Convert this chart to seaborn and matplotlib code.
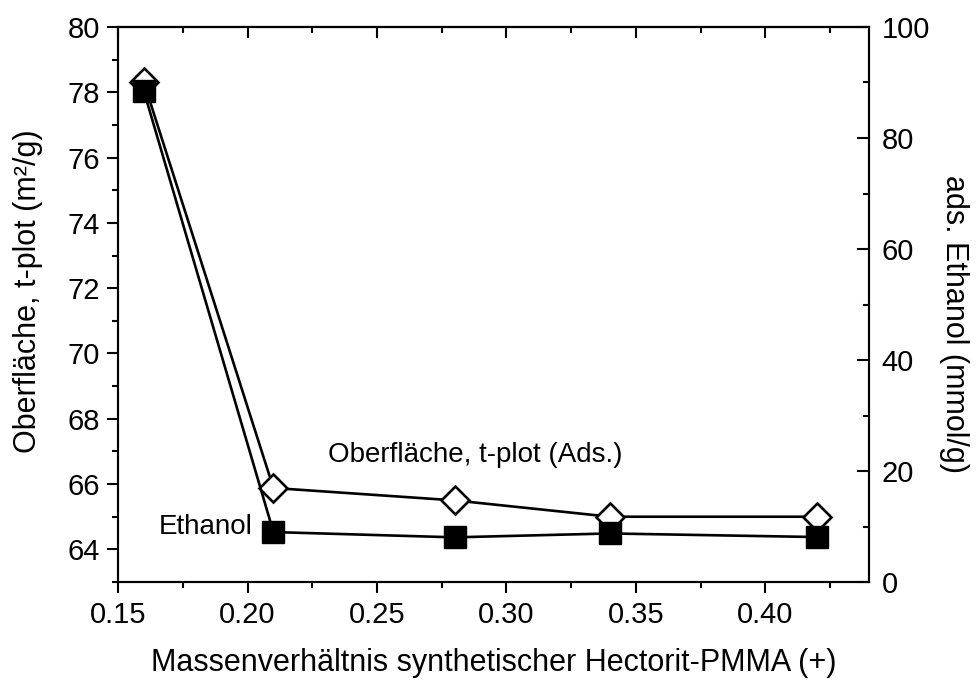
import matplotlib
matplotlib.use("Agg")
import matplotlib.pyplot as plt
from matplotlib.ticker import MultipleLocator, FormatStrFormatter
import seaborn as sns
import pandas as pd

# Mass ratio of synthetic hectorite to PMMA
ratio = [0.16, 0.21, 0.28, 0.34, 0.42]
# t-plot surface area (m²/g), left axis
surface = [78.3, 65.88, 65.5, 65.0, 65.0]
# adsorbed ethanol (mmol/g), right axis
ethanol = [88.4, 9.0, 8.05, 8.75, 8.1]

df = pd.DataFrame({"ratio": ratio, "surface": surface, "ethanol": ethanol})

sns.set_style("ticks")
plt.rcParams["font.family"] = ["Liberation Sans", "DejaVu Sans"]
plt.rcParams["text.color"] = "black"
plt.rcParams["axes.labelcolor"] = "black"
plt.rcParams["xtick.color"] = "black"
plt.rcParams["ytick.color"] = "black"
plt.rcParams["axes.linewidth"] = 1.5

TICK_FS = 21
LABEL_FS = 22
NOTE_FS = 20

fig = plt.figure(figsize=(9.78, 6.8), dpi=100)
ax = fig.add_axes([0.1207, 0.1441, 0.7678, 0.8162])
ax2 = ax.twinx()

sns.lineplot(data=df, x="ratio", y="surface", ax=ax, color="black",
             linewidth=1.9, marker="D", markersize=14, markerfacecolor="white",
             markeredgecolor="black", markeredgewidth=1.9, zorder=3)
sns.lineplot(data=df, x="ratio", y="ethanol", ax=ax2, color="black",
             linewidth=1.9, marker="s", markersize=15.5, markerfacecolor="black",
             markeredgecolor="black", markeredgewidth=1.0, zorder=3)

ax.set_xlim(0.15, 0.44)
ax.set_ylim(63, 80)
ax2.set_ylim(0, 100)

ax.xaxis.set_major_locator(MultipleLocator(0.05))
ax.xaxis.set_minor_locator(MultipleLocator(0.025))
ax.yaxis.set_major_locator(MultipleLocator(2))
ax.yaxis.set_minor_locator(MultipleLocator(1))
ax2.yaxis.set_major_locator(MultipleLocator(20))
ax2.yaxis.set_minor_locator(MultipleLocator(10))
ax.xaxis.set_major_formatter(FormatStrFormatter("%.2f"))

for a in (ax, ax2):
    for s in a.spines.values():
        s.set_visible(True)
        s.set_linewidth(1.5)
        s.set_color("black")

ax.tick_params(axis="both", which="major", direction="out", length=8, width=1.5,
               labelsize=TICK_FS, top=False, right=False)
ax.tick_params(axis="x", which="major", pad=6)
ax.tick_params(axis="y", which="major", pad=5)
ax.tick_params(axis="both", which="minor", direction="out", length=4.5, width=1.5,
               top=False, right=False)
ax2.tick_params(axis="y", which="major", direction="in", length=8.5, width=1.5,
                labelsize=TICK_FS, pad=9)
ax2.tick_params(axis="y", which="minor", direction="in", length=4.5, width=1.5)

# top edge carries inward ticks
top = ax.secondary_xaxis("top")
top.xaxis.set_major_locator(MultipleLocator(0.05))
top.xaxis.set_minor_locator(MultipleLocator(0.025))
top.tick_params(which="major", direction="in", length=8, width=1.5, labeltop=False)
top.tick_params(which="minor", direction="in", length=4.5, width=1.5)
top.spines["top"].set_linewidth(1.5)

ax.set_xlabel("Massenverhältnis synthetischer Hectorit-PMMA (+)", fontsize=LABEL_FS)
ax.xaxis.label.set_verticalalignment("center")
ax.xaxis.set_label_coords(0.5, (582 - 663) / 555)

ax.set_ylabel("Oberfläche, t-plot (m²/g)", fontsize=LABEL_FS)
ax.yaxis.label.set_verticalalignment("center")
ax.yaxis.set_label_coords((28 - 118) / 751, (582 - 291) / 555)

ax2.set_ylabel("ads. Ethanol (mmol/g)", fontsize=LABEL_FS, rotation=-90)
ax2.yaxis.label.set_verticalalignment("center")
ax2.yaxis.set_label_coords((954 - 118) / 751, (582 - 324) / 555)

ax.text(0.231, 66.9, "Oberfläche, t-plot (Ads.)", fontsize=NOTE_FS, ha="left", va="center")
ax.text(0.2019, 64.69, "Ethanol", fontsize=NOTE_FS, ha="right", va="center")

ax.set_zorder(ax2.get_zorder() - 1)
ax2.patch.set_visible(False)
ax.patch.set_facecolor("white")

for a in (ax, ax2):
    if a.get_legend():
        a.get_legend().remove()

fig.savefig("out.png", dpi=100, facecolor="white")
